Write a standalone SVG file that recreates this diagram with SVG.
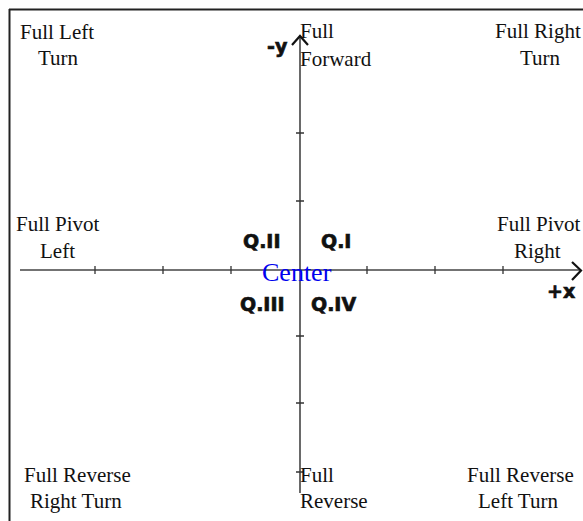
<svg xmlns="http://www.w3.org/2000/svg" width="583" height="521" viewBox="0 0 583 521">
<style>
.lbl{font-family:"Liberation Serif","Times New Roman",serif;font-size:21px;fill:#111}
.q{font-family:"DejaVu Sans",sans-serif;font-weight:bold;font-size:19px;fill:#111;stroke:#111;stroke-width:0.7}
.ax{stroke:#444;stroke-width:1.6;fill:none}
.tk{stroke:#333;stroke-width:1.3}
</style>
<rect width="583" height="521" fill="#fff"/>
<g id="frame">
<path d="M9 9.5H583M9.5 9V521" stroke="#222" stroke-width="2" fill="none"/>
</g>
<g id="connectors">
<path class="ax" d="M300 36V493"/>
<path class="ax" d="M20 270H581"/>
<path d="M292 45L300 36L308 45" stroke="#111" stroke-width="2.2" fill="none"/>
<path d="M572 262L581 270.5L572 280" stroke="#111" stroke-width="2.2" fill="none"/>
<g class="tk">
<path d="M95 266V274M163 266V274M231 266V274M367 266V274M435 266V274M503 266V274"/>
<path d="M296 133H304M296 201H304M296 336H304M296 403H304M296 472H304"/>
</g>
</g>
<g id="axis-labels">
<text class="q" x="267" y="53">-y</text>
<text class="q" x="547" y="298">+x</text>
</g>
<g id="quadrants">
<text class="q" x="243" y="248">Q.II</text>
<text class="q" x="321" y="248">Q.I</text>
<text class="q" x="240" y="311">Q.III</text>
<text class="q" x="311" y="311">Q.IV</text>
</g>
<g id="center">
<text x="262" y="281" font-family="Liberation Serif,serif" font-size="26" fill="#0000ee">Center</text>
</g>
<g id="full-left-turn">
<text class="lbl" x="20" y="39">Full Left</text>
<text class="lbl" x="38" y="65">Turn</text>
</g>
<g id="full-forward">
<text class="lbl" x="300" y="38">Full</text>
<text class="lbl" x="300" y="66">Forward</text>
</g>
<g id="full-right-turn">
<text class="lbl" x="495" y="38">Full Right</text>
<text class="lbl" x="520" y="65">Turn</text>
</g>
<g id="full-pivot-left">
<text class="lbl" x="16" y="231">Full Pivot</text>
<text class="lbl" x="40" y="258">Left</text>
</g>
<g id="full-pivot-right">
<text class="lbl" x="497" y="231">Full Pivot</text>
<text class="lbl" x="514" y="258">Right</text>
</g>
<g id="full-reverse-right-turn">
<text class="lbl" x="24" y="482">Full Reverse</text>
<text class="lbl" x="30" y="508">Right Turn</text>
</g>
<g id="full-reverse">
<text class="lbl" x="300" y="482">Full</text>
<text class="lbl" x="300" y="508">Reverse</text>
</g>
<g id="full-reverse-left-turn">
<text class="lbl" x="467" y="482">Full Reverse</text>
<text class="lbl" x="478" y="508">Left Turn</text>
</g>
</svg>
